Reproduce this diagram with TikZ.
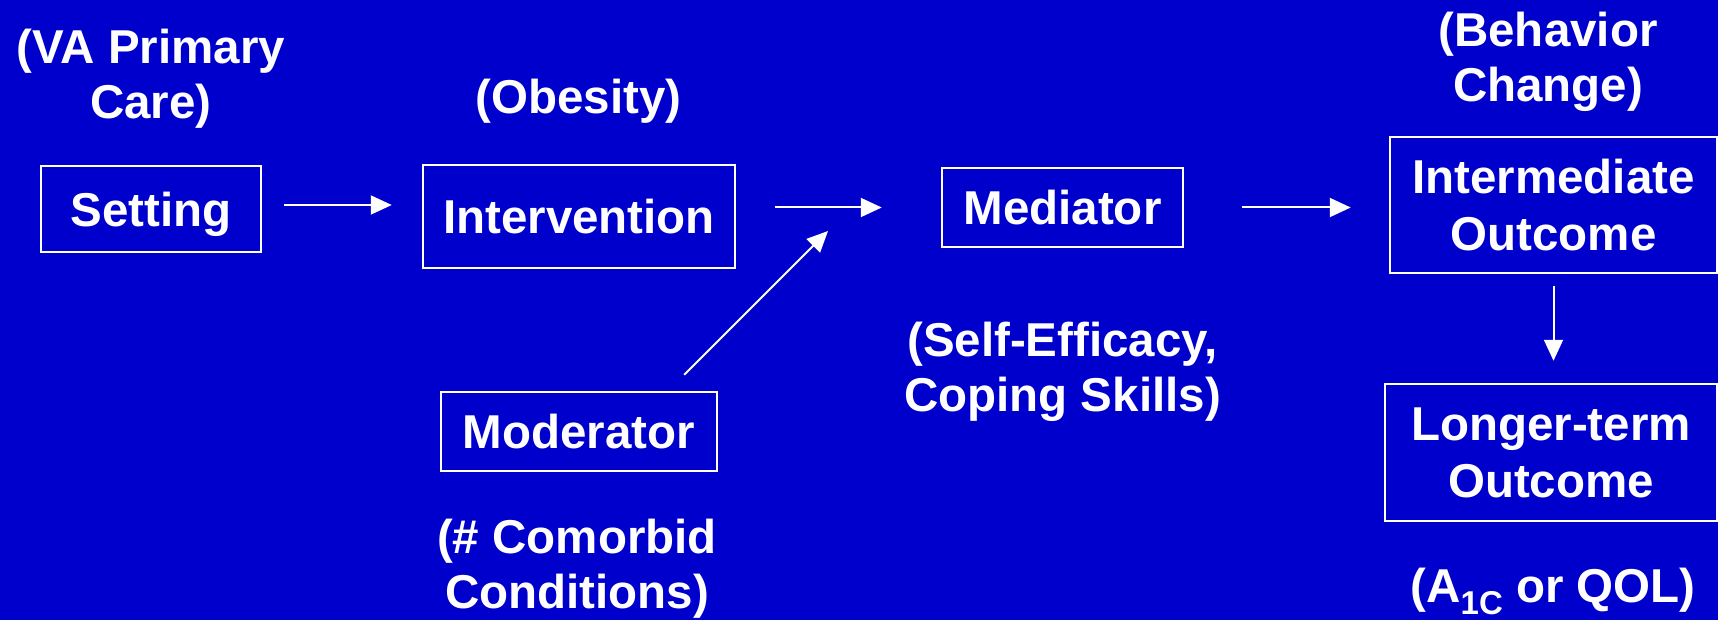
\documentclass[tikz,border=0pt]{standalone}
\usepackage{fontspec}
\setmainfont{Liberation Sans}
\usetikzlibrary{arrows.meta}
\definecolor{slideblue}{RGB}{0,0,204}

\begin{document}
\begin{tikzpicture}[x=1pt, y=-1pt,
		every node/.style={text=white, font=\fontsize{47.5}{55}\selectfont\bfseries},
		box/.style={draw=white, line width=2.5pt, inner sep=0pt, text depth=0pt, align=center},
		note/.style={inner sep=0pt, align=center},
		arr/.style={white, line width=2pt, -{Triangle[length=21pt, width=19pt]}}]
	\fill[slideblue] (0, 0) rectangle (1718, 620);
	\useasboundingbox (0, 0) rectangle (1718, 620);
	% boxes of the model
	\node[box, minimum width=220, minimum height=86] (setting) at (151, 209) {Setting};
	\node[box, minimum width=312, minimum height=103] (interv) at (579, 216.5) {Intervention};
	\node[box, minimum width=241, minimum height=79] (mediator) at (1062.5, 207.5) {Mediator};
	\node[box, minimum width=276, minimum height=79] (moderator) at (579, 431.5) {Moderator};
	\node[box, font=\fontsize{47.5}{57}\selectfont\bfseries, minimum width=327, minimum height=136] (intermed) at (1553.5, 205) {Intermediate\\Outcome};
	\node[box, font=\fontsize{47.5}{57}\selectfont\bfseries, minimum width=332, minimum height=137] (longer) at (1551, 452.5) {Longer-term\\Outcome};
	% examples in brackets
	\node[note] (primary) at (151, 79) {(VA Primary\\Care)};
	\node[note, anchor=base] (obesity) at (578.5, 114) {(Obesity)};
	\node[note] (efficacy) at (1062.5, 372) {(Self-Efficacy,\\Coping Skills)};
	\node[note] (comorbid) at (577, 569) {(\# Comorbid\\Conditions)};
	\node[note] (behavior) at (1548, 62) {(Behavior\\Change)};
	\node[note, anchor=base] (aonec) at (1553, 602) {(A\raisebox{-12pt}{\fontsize{33}{33}\selectfont 1C} or QOL)};
	% arrows
	\coordinate (join) at (828, 231);
	\draw[arr, shorten <=22pt, shorten >=30pt] ([yshift=4pt]setting.east) -- ([yshift=4pt]setting.east -| interv.west);
	\draw[arr, shorten <=39pt, shorten >=59pt] (interv.east |- mediator.west) -- (mediator.west);
	\draw[arr, shorten <=58pt, shorten >=38pt] (mediator.east) -- (mediator.east -| intermed.west);
	\draw[arr, shorten <=22.6pt] ([xshift=-50pt]moderator.north east) -- (join);
	\draw[arr, shorten <=12pt, shorten >=22pt] (intermed.south) -- (intermed.south |- longer.north);
\end{tikzpicture}
\end{document}
